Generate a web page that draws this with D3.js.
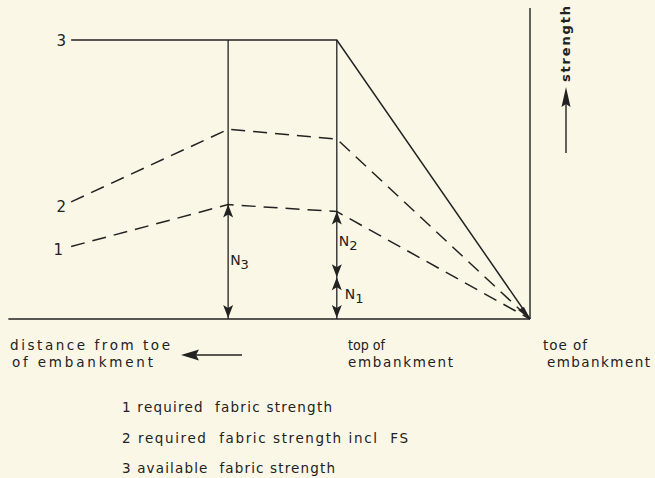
<!DOCTYPE html>
<html><head><meta charset="utf-8">
<script src="https://cdn.jsdelivr.net/npm/d3@7"></script>
<style>
html,body{margin:0;padding:0;background:#faf7e7;}
svg{display:block;}
text{font-family:"DejaVu Sans",sans-serif;fill:#222;}
</style></head>
<body>
<script>
// ---- data ----
const positions = ["far", "mid", "top", "toe"];           // points along embankment
const distance = [9.5, 6.25, 4.0, 0];                      // distance from toe (arbitrary units)
const available = [100, 100, 100, 0];                      // curve 3
const requiredFS = [42, 68, 64.5, 0];                      // curve 2
const required = [26, 41, 38.5, 0];                        // curve 1
const curveLabels = ["1", "2", "3"];
const legendLabels = ["1 required  fabric strength", "2 required  fabric strength incl  FS", "3 available  fabric strength"];
const nLevel = 15;                                        // N1/N2 split at top of embankment
const xLabels = [["distance from toe", "of embankment"], ["top of", "embankment"], ["toe of", "embankment"]];

const W = 655, H = 478;
const svg = d3.select("body").append("svg").attr("width", W).attr("height", H);
const x = d3.scaleLinear().domain([0, 10]).range([530, 47]);
const y = d3.scaleLinear().domain([0, 100]).range([319, 40]);
const ink = "#222";

// axes
svg.append("line").attr("x1", x(10.8)).attr("x2", x(0)).attr("y1", y(0)).attr("y2", y(0))
  .attr("stroke", ink).attr("stroke-width", 1.6);
svg.append("line").attr("x1", x(0)).attr("x2", x(0)).attr("y1", y(0)).attr("y2", y(111.5))
  .attr("stroke", ink).attr("stroke-width", 1.4);

const pts = s => distance.map((d, i) => [x(d), y(s[i])]);
const line = d3.line();

// curve 3 (solid)
svg.append("path").attr("d", line(pts(available))).attr("fill", "none")
  .attr("stroke", ink).attr("stroke-width", 1.5);
// verticals at mid and top from curve 3 to ground
[1, 2].forEach(i => {
  svg.append("line").attr("x1", x(distance[i])).attr("x2", x(distance[i]))
    .attr("y1", y(available[i])).attr("y2", y(0)).attr("stroke", ink).attr("stroke-width", 1.3);
});
// curve 2, 1 dashed
svg.append("path").attr("d", line(pts(requiredFS))).attr("fill", "none")
  .attr("stroke", ink).attr("stroke-width", 1.5).attr("stroke-dasharray", "14,8");
svg.append("path").attr("d", line(pts(required))).attr("fill", "none")
  .attr("stroke", ink).attr("stroke-width", 1.5).attr("stroke-dasharray", "14,8");

// arrowheads
function head(px, py, dir, len = 13, wid = 5) {
  // dir: -1 up, +1 down; tip at (px,py)
  const b = py - dir * len;
  svg.append("path").attr("d", `M${px},${py}L${px - wid},${b}L${px},${b + dir * 3}L${px + wid},${b}Z`)
    .attr("fill", ink);
}
// N3
head(x(distance[1]), y(required[1]), -1);
head(x(distance[1]), y(0) - 1, 1);
// N2 / N1 at top
head(x(distance[2]), y(required[2]), -1);
head(x(distance[2]), y(nLevel), 1);
head(x(distance[2]), y(nLevel), -1);
head(x(distance[2]), y(0) - 1, 1);
// toe blob
svg.append("path").attr("d", `M${x(0)},${y(0)}L${x(0) - 12},${y(0) - 9}L${x(0) - 6},${y(0) - 12}Z`).attr("fill", ink);

// N labels
function nLabel(px, py, sub) {
  const t = svg.append("text").attr("x", px).attr("y", py).attr("font-size", 14);
  t.append("tspan").text("N");
  t.append("tspan").attr("dy", 4).attr("font-size", 13).text(sub);
}
nLabel(x(distance[1]) + 2, y(19.5), "3");
nLabel(x(distance[2]) + 2, y(26), "2");
nLabel(x(distance[2]) + 8, y(7), "1");

// curve labels
svg.append("text").attr("x", x(distance[0]) - 5).attr("y", y(available[0]) + 6).attr("text-anchor", "end")
  .attr("font-size", 15).text(curveLabels[2]);
svg.append("text").attr("x", x(distance[0]) - 5).attr("y", y(requiredFS[0]) + 10).attr("text-anchor", "end")
  .attr("font-size", 15).text(curveLabels[1]);
svg.append("text").attr("x", x(distance[0]) - 8).attr("y", y(required[0]) + 9).attr("text-anchor", "end")
  .attr("font-size", 15).text(curveLabels[0]);

// strength label and arrow
svg.append("text").attr("transform", "translate(570,44) rotate(-90)").attr("text-anchor", "middle")
  .attr("font-size", 13).attr("font-weight", "bold").attr("textLength", 76).attr("lengthAdjust", "spacing").text("strength");
svg.append("line").attr("x1", 566).attr("x2", 566).attr("y1", 153).attr("y2", 100).attr("stroke", ink).attr("stroke-width", 1.4);
head(566, 87, -1, 20, 4.5);

// bottom labels
const lblX = [[10, 12], [348, 348], [543, 547]];
const lens = [[160, 141], [37, 105], [44, 103]];
lblX.forEach((lx, i) => {
  xLabels[i].forEach((s, j) => {
    svg.append("text").attr("x", lx[j])
      .attr("y", 350 + j * 17).attr("font-size", 13.5)
      .attr("textLength", lens[i][j])
      .attr("lengthAdjust", (i === 1 && j === 0) ? "spacingAndGlyphs" : "spacing").text(s);
  });
});
// direction arrow
svg.append("line").attr("x1", 242).attr("x2", 196).attr("y1", 355).attr("y2", 355).attr("stroke", ink).attr("stroke-width", 1.4);
svg.append("path").attr("d", "M181,355L199,349.5L196,355L199,360.5Z").attr("fill", ink);

// legend
const legLens = [210, 286, 213];
legendLabels.forEach((s, i) => {
  svg.append("text").attr("x", 122).attr("y", 412 + i * 30.5).attr("font-size", 13.5)
    .attr("textLength", legLens[i]).attr("lengthAdjust", "spacing").attr("xml:space", "preserve").text(s);
});
</script>
</body></html>
